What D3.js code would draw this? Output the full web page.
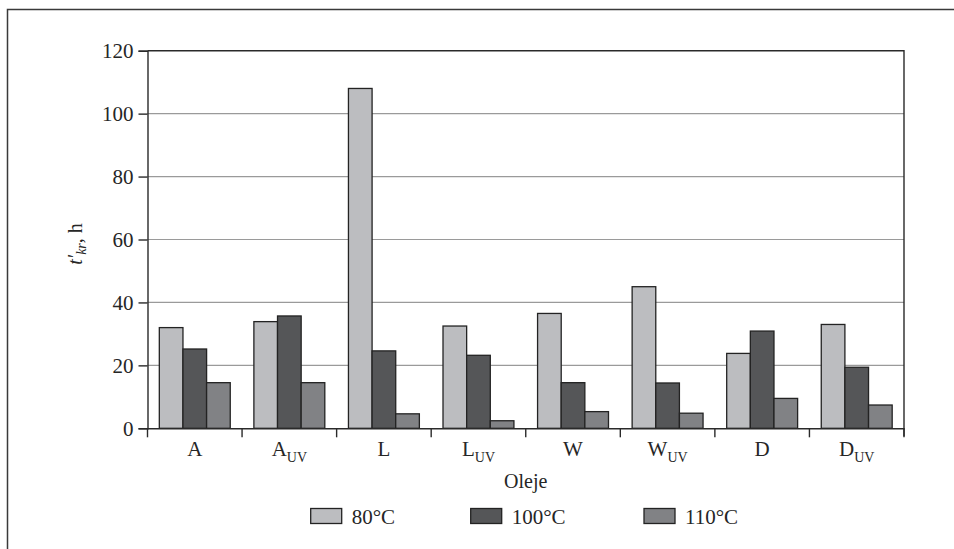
<!DOCTYPE html>
<html><head><meta charset="utf-8">
<script src="https://cdn.jsdelivr.net/npm/d3@7"></script>
<style>body{margin:0;background:#fff}svg{display:block}text{font-family:"Liberation Serif","Times New Roman",serif;fill:#262626}</style>
</head><body>
<script>
const categories = ["A","A_UV","L","L_UV","W","W_UV","D","D_UV"];
const seriesNames = ["80°C","100°C","110°C"];
const s80  = [32.0, 33.9, 108.0, 32.5, 36.5, 45.0, 23.8, 33.0];
const s100 = [25.2, 35.7, 24.6, 23.2, 14.5, 14.4, 30.9, 19.4];
const s110 = [14.5, 14.5, 4.6, 2.4, 5.3, 4.8, 9.5, 7.4];
const yTicks = [0,20,40,60,80,100,120];
const colors = ["#bcbdc0","#555658","#818285"];
const series = [s80, s100, s110];

const W = 954, H = 549;
const svg = d3.select("body").append("svg").attr("width", W).attr("height", H);
const m = {l:147.5, r:904, t:50.7, b:428.3};

// outer frame (top and left)
svg.append("path").attr("d", `M7.5,${H} V9.5 H${W}`).attr("fill","none").attr("stroke","#3a3a3a").attr("stroke-width",1.5);

const x0 = d3.scaleBand().domain(categories).range([m.l, m.r]).paddingInner(0).paddingOuter(0);
const x1 = d3.scaleBand().domain(seriesNames).range([0, x0.bandwidth()]).paddingInner(0).paddingOuter(0.5);
const y = d3.scaleLinear().domain([0,120]).range([m.b, m.t]);

// gridlines
svg.append("g").selectAll("line").data(yTicks.filter(d=>d>0 && d<120)).join("line")
  .attr("x1", m.l).attr("x2", m.r).attr("y1", d=>y(d)).attr("y2", d=>y(d))
  .attr("stroke","#9a9a9a").attr("stroke-width",1.2);

// bars
const g = svg.append("g");
categories.forEach((c,i)=>{
  series.forEach((s,j)=>{
    g.append("rect")
      .attr("x", x0(c)+x1(seriesNames[j]))
      .attr("y", y(s[i]))
      .attr("width", x1.bandwidth())
      .attr("height", y(0)-y(s[i]))
      .attr("fill", colors[j]).attr("stroke","#232323").attr("stroke-width",1.3);
  });
});

// frame top & right
svg.append("path").attr("d", `M${m.l},${m.t} H${m.r} V${m.b+8}`).attr("fill","none").attr("stroke","#2a2a2a").attr("stroke-width",1.4);

// y axis
const ya = svg.append("g").attr("transform",`translate(${m.l},0)`)
  .call(d3.axisLeft(y).tickValues(yTicks).tickSize(9).tickPadding(5).tickFormat(d3.format("d")));
ya.select(".domain").attr("stroke","#2a2a2a").attr("stroke-width",1.4);
ya.selectAll(".tick line").attr("stroke","#2a2a2a").attr("stroke-width",1.4);
ya.selectAll("text").attr("font-size",21).attr("font-family","Liberation Serif").attr("fill","#262626");

// x axis
const xa = svg.append("g").attr("transform",`translate(0,${m.b})`)
  .call(d3.axisBottom(x0).tickValues([]).tickSizeOuter(0));
xa.select(".domain").attr("stroke","#2a2a2a").attr("stroke-width",1.4);
const bounds = d3.range(categories.length+1).map(i=> m.l + i*x0.bandwidth());
xa.selectAll("line.sep").data(bounds).join("line").attr("class","sep")
  .attr("x1",d=>d).attr("x2",d=>d).attr("y1",0).attr("y2",9)
  .attr("stroke","#2a2a2a").attr("stroke-width",1.4);
categories.forEach(c=>{
  const [base, sub] = c.split("_");
  const t = svg.append("text").attr("x", x0(c)+x0.bandwidth()/2).attr("y", 456)
    .attr("text-anchor","middle").attr("font-size",21);
  t.append("tspan").text(base);
  if (sub) t.append("tspan").attr("font-size",14).attr("dy",6).text(sub);
});

// axis titles
svg.append("text").attr("x", (m.l+m.r)/2).attr("y", 488).attr("text-anchor","middle").attr("font-size",20).text("Oleje");
const yt = svg.append("text").attr("transform","translate(82,244) rotate(-90)").attr("text-anchor","middle").attr("font-size",20);
yt.append("tspan").attr("font-style","italic").text("t′");
yt.append("tspan").attr("font-style","italic").attr("font-size",14).attr("dy",4).text("kr");
yt.append("tspan").attr("dy",-4).text(", h");

// legend
const legX = [310.7, 470.7, 644];
seriesNames.forEach((n,j)=>{
  svg.append("rect").attr("x",legX[j]).attr("y",508.5).attr("width",31).attr("height",15)
    .attr("fill",colors[j]).attr("stroke","#232323").attr("stroke-width",1.3);
  svg.append("text").attr("x",legX[j]+41).attr("y",523.5).attr("font-size",21).text(n);
});
</script>
</body></html>
